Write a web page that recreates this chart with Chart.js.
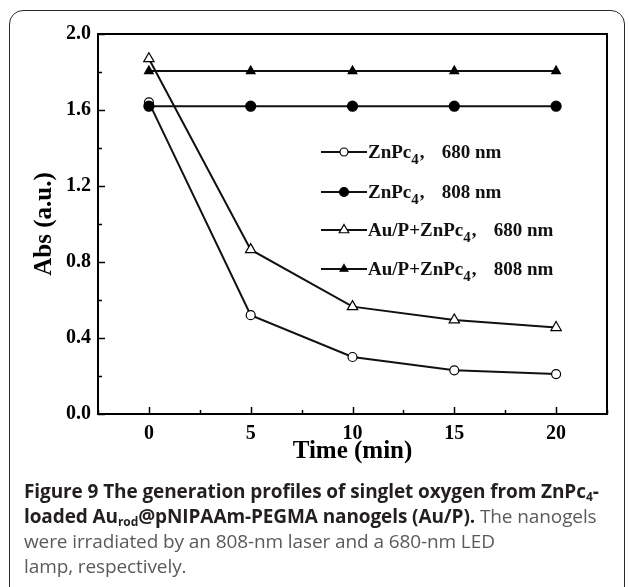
<!DOCTYPE html>
<html>
<head>
<meta charset="utf-8">
<script src="https://cdn.jsdelivr.net/npm/chart.js@4.4.1/dist/chart.umd.min.js"></script>
<style>
  html, body { margin: 0; padding: 0; background: #fff; }
  body { width: 629px; height: 587px; position: relative; overflow: hidden; }
  #frame {
    position: absolute; left: 9px; top: 10px; width: 614px; height: 620px;
    border: 1.5px solid #2a2a2a; border-radius: 14px;
  }
  #chart { position: absolute; left: 0; top: 0; }
  #caption {
    position: absolute; left: 24px; top: 479px;
    font-family: "Open Sans", Lato, sans-serif; font-size: 19px; line-height: 25px;
    color: #5a5a5a; white-space: nowrap; letter-spacing: -0.1px;
  }
  #caption b { color: #231f20; font-weight: 700; }
  #caption sub { font-size: 12px; vertical-align: -3px; line-height: 0; }
</style>
</head>
<body>
<div id="frame"></div>
<canvas id="chart" width="629" height="480"></canvas>
<div id="caption">
  <b>Figure 9 The generation profiles of singlet oxygen from ZnPc<sub>4</sub>-</b><br>
  <b>loaded Au<sub>rod</sub>@pNIPAAm-PEGMA nanogels (Au/P).</b> The nanogels<br>
  were irradiated by an 808-nm laser and a 680-nm LED<br>
  lamp, respectively.
</div>
<script>
// time (min)
const times = [0, 5, 10, 15, 20];
// absorbance readings
const znpc680 = [1.64, 0.52, 0.30, 0.23, 0.21];
const znpc808 = [1.62, 1.62, 1.62, 1.62, 1.62];
const aup680 = [1.87, 0.865, 0.565, 0.495, 0.455];
const aup808 = [1.805, 1.805, 1.805, 1.805, 1.805];

const xTicks = [0, 5, 10, 15, 20];
const yTicks = [0, 0.4, 0.8, 1.2, 1.6, 2.0];

const serif = '"Liberation Serif", "Times New Roman", serif';

function pts(vals) {
    return times.map((t, i) => ({ x: t, y: vals[i] }));
}

const series = [
    { name: 'ZnPc', sub: '4', rest: '680 nm', data: znpc680, style: 'circle', r: 4.5, fill: '#fff', order: 2 },
    { name: 'ZnPc', sub: '4', rest: '808 nm', data: znpc808, style: 'circle', r: 5, fill: '#000', order: 1 },
    { name: 'Au/P+ZnPc', sub: '4', rest: '680 nm', data: aup680, style: 'triangle', r: 6, fill: '#fff', order: 2 },
    { name: 'Au/P+ZnPc', sub: '4', rest: '808 nm', data: aup808, style: 'triangle', r: 5, fill: '#000', order: 2 }
];

// inward ticks, top/right frame
const frameTicks = {
    id: 'frameTicks',
    afterDraw(chart) {
        const { ctx, chartArea: a, scales: { x, y } } = chart;
        ctx.save();
        ctx.strokeStyle = '#000';
        ctx.lineWidth = 2;
        ctx.beginPath();
        ctx.moveTo(a.left, a.top); ctx.lineTo(a.right, a.top); ctx.lineTo(a.right, a.bottom);
        ctx.stroke();
        ctx.lineWidth = 1.5;
        for (let v = -2.5; v <= 22.5; v += 2.5) {
            const px = Math.round(x.getPixelForValue(v)) + 0.5;
            const len = (v % 5 === 0) ? 7 : 4;
            ctx.beginPath(); ctx.moveTo(px, a.bottom); ctx.lineTo(px, a.bottom - len); ctx.stroke();
        }
        for (let i = 0; i <= 10; i++) {
            const v = i * 0.2;
            const py = Math.round(y.getPixelForValue(v)) + 0.5;
            const len = (i % 2 === 0) ? 7 : 4;
            ctx.beginPath(); ctx.moveTo(a.left, py); ctx.lineTo(a.left + len, py); ctx.stroke();
        }
        ctx.restore();
    }
};

// legend with subscripts
const subLegend = {
    id: 'subLegend',
    afterDraw(chart) {
        const { ctx, chartArea: a } = chart;
        const rows = [118, 158, 196, 235];
        ctx.save();
        series.forEach((s, i) => {
            const yy = a.top + rows[i];
            const x0 = a.left + 223, x1 = a.left + 269;
            ctx.strokeStyle = '#111';
            ctx.lineWidth = 2;
            ctx.beginPath(); ctx.moveTo(x0, yy); ctx.lineTo(x1, yy); ctx.stroke();
            ctx.fillStyle = s.fill;
            ctx.strokeStyle = '#000';
            ctx.lineWidth = 1.2;
            Chart.helpers.drawPoint(ctx, { pointStyle: s.style, radius: s.r - 0.5, rotation: 0, borderWidth: 1.2 }, (x0 + x1) / 2, yy);

            ctx.fillStyle = '#111';
            ctx.textBaseline = 'alphabetic';
            let tx = a.left + 270;
            const base = yy + 6;
            ctx.font = 'bold 19px ' + serif;
            ctx.fillText(s.name, tx, base);
            tx += ctx.measureText(s.name).width;
            ctx.font = 'bold 15px ' + serif;
            ctx.fillText(s.sub, tx, base + 6);
            tx += ctx.measureText(s.sub).width;
            ctx.font = 'bold 19px ' + serif;
            ctx.fillText(',', tx + 1, base);
            tx += 23;
            ctx.fillText(s.rest, tx, base);
        });
        ctx.restore();
    }
};

new Chart(document.getElementById('chart'), {
    type: 'line',
    data: {
        datasets: series.map(s => ({
            label: s.name + s.sub + ', ' + s.rest,
            data: pts(s.data),
            order: s.order,
            borderColor: '#111',
            borderWidth: 2,
            pointStyle: s.style,
            pointRadius: s.r,
            pointBackgroundColor: s.fill,
            pointBorderColor: '#000',
            pointBorderWidth: 1.2,
            tension: 0
        }))
    },
    options: {
        responsive: false,
        animation: false,
        layout: { padding: { top: 34, right: 22, left: 0, bottom: 0 } },
        plugins: { legend: { display: false }, tooltip: { enabled: false } },
        scales: {
            x: {
                type: 'linear', min: -2.5, max: 22.5,
                afterBuildTicks: s => { s.ticks = xTicks.map(v => ({ value: v })); },
                afterFit: s => { s.height = 66; },
                grid: { display: false, drawTicks: false },
                border: { display: true, color: '#000', width: 2 },
                ticks: { padding: 8, color: '#000', font: { family: serif, size: 20, weight: 'bold' } },
                title: { display: true, text: 'Time (min)', color: '#000', padding: { bottom: 13 },
                         font: { family: serif, size: 25, weight: 'bold' } }
            },
            y: {
                min: 0, max: 2,
                afterBuildTicks: s => { s.ticks = yTicks.map(v => ({ value: v })); },
                afterFit: s => { s.width = 98; },
                grid: { display: false, drawTicks: false },
                border: { display: true, color: '#000', width: 2 },
                ticks: { padding: 7, color: '#000', callback: v => v.toFixed(1),
                         font: { family: serif, size: 20, weight: 'bold' } },
                title: { display: true, text: 'Abs (a.u.)', color: '#000', padding: { top: 30 },
                         font: { family: serif, size: 25, weight: 'bold' } }
            }
        }
    },
    plugins: [frameTicks, subLegend]
});
</script>
</body>
</html>
